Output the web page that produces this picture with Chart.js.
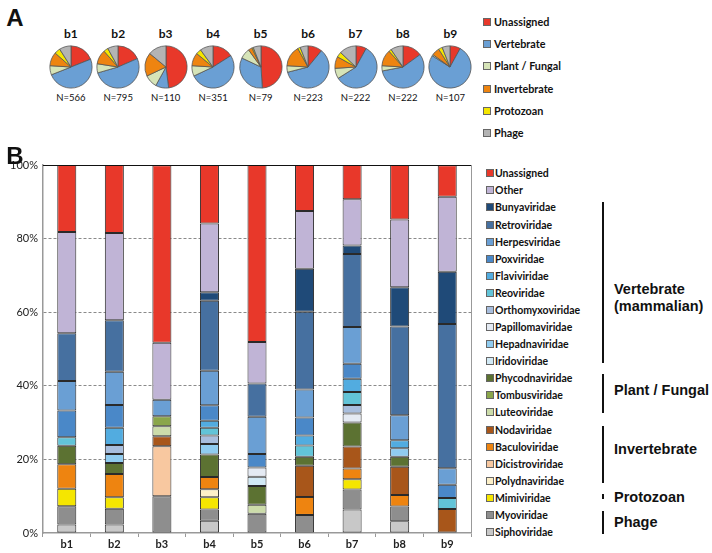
<!DOCTYPE html>
<html><head><meta charset="utf-8">
<script src="https://cdn.jsdelivr.net/npm/chart.js@4.4.0/dist/chart.umd.min.js"></script>
<style>
html,body{margin:0;padding:0;background:#fff;}
#wrap{position:relative;width:712px;height:553px;overflow:hidden;font-family:Lato,'Liberation Sans',sans-serif;color:#111;}
.abs{position:absolute;white-space:nowrap;line-height:1;}
.ctr{transform:translate(-50%,-50%);}
.vc{transform:translateY(-50%);}
.panel{font-family:'Liberation Sans',Arial,sans-serif;font-weight:bold;font-size:24px;}
.ptitle{font-weight:bold;font-size:12px;}
.pn{font-size:9.5px;}
.lg{font-weight:bold;font-size:10.5px;}
.lgA{font-weight:bold;font-size:10.8px;}
.sq{position:absolute;width:6px;height:6px;border:1px solid #666;}
.grp{font-family:'Liberation Sans',Arial,sans-serif;font-weight:bold;font-size:14.5px;}
.vline{position:absolute;width:2px;background:#111;}
canvas{position:absolute;}
</style></head>
<body><div id="wrap"></div>
<script>
// ---------- DATA ----------
const samples = ['b1','b2','b3','b4','b5','b6','b7','b8','b9'];
const sampleN = [566,795,110,351,79,223,222,222,107];

// Panel A: host groups (% of reads)
const pieGroups = ['Unassigned','Vertebrate','Plant / Fungal','Invertebrate','Protozoan','Phage'];
const pieUnassigned = [19, 18.5, 48, 16, 49, 11, 8, 15, 8];
const pieVertebrate = [50, 52, 10, 52, 33, 60, 58, 57, 76];
const piePlant      = [7, 7, 10, 8, 8, 5, 8, 4, 1];
const pieInvert     = [10.5, 11, 18, 10, 3, 16, 9, 12.5, 6];
const pieProtozoan  = [4.5, 3.5, 0, 4, 1, 2, 4, 2, 3];
const piePhage      = [9, 8, 14, 10, 6, 6, 13, 9.5, 6];

// Panel B: viral families (% of reads), null = absent
const Siphoviridae     = [2.3, 2.3, null, 3.3, null, null, 6.4, 3.2, null];
const Myoviridae       = [5.0, 4.3, 10.0, 3.1, 5.2, 4.9, 5.4, 4.0, null];
const Mimiviridae      = [4.7, 3.1, null, 3.3, null, null, 2.8, null, null];
const Polydnaviridae   = [null, null, null, 2.2, null, null, null, null, null];
const Dicistroviridae  = [null, null, 13.6, null, null, null, null, null, null];
const Baculoviridae    = [6.7, 6.3, null, 3.3, null, 4.9, 2.9, 3.1, null];
const Nodaviridae      = [null, null, 2.7, null, null, 8.5, 6.0, 7.7, 6.5];
const Luteoviridae     = [null, null, 2.7, null, 2.5, null, null, null, null];
const Tombusviridae    = [null, null, 2.7, null, null, null, null, null, null];
const Phycodnaviridae  = [5.0, 3.0, null, 6.1, 5.1, 2.4, 6.5, 2.7, null];
const Iridoviridae     = [null, null, null, null, 2.5, null, null, null, null];
const Hepadnaviridae   = [null, 2.5, null, 2.9, null, null, null, 2.3, null];
const Papillomaviridae = [null, null, null, null, 2.5, null, 2.5, null, null];
const Orthomyxoviridae = [null, 2.4, null, 2.3, null, null, 2.3, null, null];
const Reoviridae       = [2.3, null, null, 2.1, null, 3.1, 3.5, null, 3.0];
const Flaviviridae     = [null, 4.7, null, 1.9, null, 2.7, 3.6, 2.2, null];
const Poxviridae       = [7.3, 6.2, null, 4.2, 3.7, 4.9, 4.1, null, 3.6];
const Herpesviridae    = [8.0, 9.0, 4.5, 9.4, 10.1, 7.6, 10.0, 6.8, 4.5];
const Retroviridae     = [13.0, 14.0, null, 19.0, 9.0, 21.1, 19.8, 24.1, 39.2];
const Bunyaviridae     = [null, null, null, 2.3, null, 11.7, 2.3, 10.7, 14.2];
const Other            = [27.5, 23.7, 15.5, 18.7, 11.3, 15.7, 12.6, 18.4, 20.4];
const Unassigned       = [18.2, 18.5, 48.2, 15.9, 48.2, 12.5, 9.5, 14.8, 8.5];

const yTicks = [0, 20, 40, 60, 80, 100];

// ---------- STYLES ----------
const pieColors = ['#e8382a','#6a9fd4','#d6e4b8','#ee8410','#f5e600','#b4b4b4'];
// bottom -> top
const families = [
  ['Siphoviridae', Siphoviridae, '#c8c8c8'],
  ['Myoviridae', Myoviridae, '#8e8e8e'],
  ['Mimiviridae', Mimiviridae, '#f5e600'],
  ['Polydnaviridae', Polydnaviridae, '#fdf0c8'],
  ['Dicistroviridae', Dicistroviridae, '#f8c8a0'],
  ['Baculoviridae', Baculoviridae, '#ee8410'],
  ['Nodaviridae', Nodaviridae, '#a8561a'],
  ['Luteoviridae', Luteoviridae, '#ccdcaa'],
  ['Tombusviridae', Tombusviridae, '#8aa64a'],
  ['Phycodnaviridae', Phycodnaviridae, '#5c7232'],
  ['Iridoviridae', Iridoviridae, '#d2eaf6'],
  ['Hepadnaviridae', Hepadnaviridae, '#90ccf0'],
  ['Papillomaviridae', Papillomaviridae, '#e4eaf3'],
  ['Orthomyxoviridae', Orthomyxoviridae, '#a8bede'],
  ['Reoviridae', Reoviridae, '#62c4d8'],
  ['Flaviviridae', Flaviviridae, '#52ace0'],
  ['Poxviridae', Poxviridae, '#4a88c8'],
  ['Herpesviridae', Herpesviridae, '#6a9fd4'],
  ['Retroviridae', Retroviridae, '#4670a0'],
  ['Bunyaviridae', Bunyaviridae, '#1f4a78'],
  ['Other', Other, '#c0b4d6'],
  ['Unassigned', Unassigned, '#e8382a']
];

Chart.defaults.animation = false;
Chart.defaults.font.family = "Lato, 'Liberation Sans', sans-serif";
Chart.defaults.color = '#111';

const wrap = document.getElementById('wrap');
function addDiv(cls, text, x, y, extra) {
  const d = document.createElement('div');
  d.className = 'abs ' + cls;
  d.textContent = text;
  d.style.left = x + 'px'; d.style.top = y + 'px';
  if (extra) Object.assign(d.style, extra);
  wrap.appendChild(d); return d;
}
function addCanvas(x, y, w, h) {
  const c = document.createElement('canvas');
  c.width = w; c.height = h;
  c.style.left = x + 'px'; c.style.top = y + 'px';
  c.style.width = w + 'px'; c.style.height = h + 'px';
  wrap.appendChild(c); return c;
}

// ---------- PANEL A ----------
addDiv('panel ctr', 'A', 15, 18);

const pieX0 = 70.8, pieStep = 47.45, pieY = 67, pieBox = 46;
samples.forEach((s, i) => {
  const cx = pieX0 + i * pieStep;
  addDiv('ptitle ctr', s, cx, 34);
  addDiv('pn ctr', 'N=' + sampleN[i], cx, 97.5);
  const c = addCanvas(Math.round(cx - pieBox / 2), Math.round(pieY - pieBox / 2), pieBox, pieBox);
  new Chart(c, {
    type: 'pie',
    data: {
      labels: pieGroups,
      datasets: [{
        data: [pieUnassigned[i], pieVertebrate[i], piePlant[i], pieInvert[i], pieProtozoan[i], piePhage[i]],
        backgroundColor: pieColors, borderColor: '#555', borderWidth: 0.8
      }]
    },
    options: {
      responsive: false, devicePixelRatio: 1,
      layout: { padding: 1.5 },
      plugins: { legend: { display: false }, tooltip: { enabled: false } }
    }
  });
});

pieGroups.forEach((g, i) => {
  const y = 22 + i * 22.2;
  const q = document.createElement('div'); q.className = 'sq';
  q.style.left = '483px'; q.style.top = (y - 4) + 'px'; q.style.background = pieColors[i];
  wrap.appendChild(q);
  addDiv('lgA vc', g, 494, y);
});

// ---------- PANEL B ----------
const frame = {
  id: 'frame',
  afterDraw(chart) {
    const { ctx, chartArea: a, scales: { y } } = chart;
    ctx.save();
    const yt = Math.round(y.getPixelForValue(100)) + 0.5;
    ctx.strokeStyle = '#111'; ctx.lineWidth = 1.2;
    ctx.beginPath(); ctx.moveTo(a.left, yt); ctx.lineTo(a.right, yt); ctx.stroke();
    ctx.strokeStyle = '#999'; ctx.lineWidth = 1;
    ctx.beginPath(); ctx.moveTo(Math.round(a.right) + 0.5, a.top); ctx.lineTo(Math.round(a.right) + 0.5, a.bottom); ctx.stroke();
    ctx.restore();
  }
};

const bc = addCanvas(0, 150, 480, 403);
new Chart(bc, {
  type: 'bar',
  data: {
    labels: samples,
    datasets: families.map(([name, vals, col]) => ({
      label: name, data: vals, backgroundColor: col,
      borderColor: '#2a2a2a', borderWidth: 1, borderSkipped: false,
      barPercentage: 0.4, categoryPercentage: 1
    }))
  },
  options: {
    responsive: false, devicePixelRatio: 1,
    layout: { padding: { top: 15, right: 9, bottom: 0, left: 0 } },
    plugins: { legend: { display: false }, tooltip: { enabled: false } },
    scales: {
      x: {
        stacked: true,
        afterFit: s => { s.height = 20; },
        grid: { display: true, drawOnChartArea: false, drawTicks: true, tickLength: 4, offset: true, color: '#999' },
        border: { color: '#999', width: 1.5 },
        ticks: { font: { size: 11, weight: 'bold' }, color: '#222', padding: 1 }
      },
      y: {
        stacked: true, min: 0, max: 100,
        afterFit: s => { s.width = 43; },
        afterBuildTicks: s => { s.ticks = yTicks.map(v => ({ value: v })); },
        grid: {
          drawTicks: false,
          color: c => (c.tick && (c.tick.value === 0 || c.tick.value === 100)) ? 'rgba(0,0,0,0)' : '#8a8a8a'
        },
        border: { color: '#999', width: 1.5, dash: [3, 2] },
        ticks: { callback: v => v + '%', font: { size: 11 }, color: '#222', padding: 5 }
      }
    }
  },
  plugins: [frame]
});

addDiv('panel ctr', 'B', 15, 156, { background: 'transparent' });

// Legend B (top -> bottom)
families.slice().reverse().forEach(([name, , col], i) => {
  const y = 173.3 + i * 17.08;
  const q = document.createElement('div'); q.className = 'sq';
  q.style.left = '486px'; q.style.top = (y - 4) + 'px'; q.style.background = col;
  wrap.appendChild(q);
  addDiv('lg vc', name, 495, y);
});

// Host group brackets
function vline(y1, y2) {
  const d = document.createElement('div'); d.className = 'vline';
  d.style.left = '602px'; d.style.top = y1 + 'px'; d.style.height = (y2 - y1) + 'px';
  wrap.appendChild(d);
}
vline(201.7, 362.7); vline(374, 413); vline(426, 483); vline(494, 499); vline(511, 534);
addDiv('grp vc', 'Vertebrate', 614, 289);
addDiv('grp vc', '(mammalian)', 614, 306);
addDiv('grp vc', 'Plant / Fungal', 614, 390);
addDiv('grp vc', 'Invertebrate', 614, 449);
addDiv('grp vc', 'Protozoan', 614, 497);
addDiv('grp vc', 'Phage', 614, 522);
</script>
</body></html>
